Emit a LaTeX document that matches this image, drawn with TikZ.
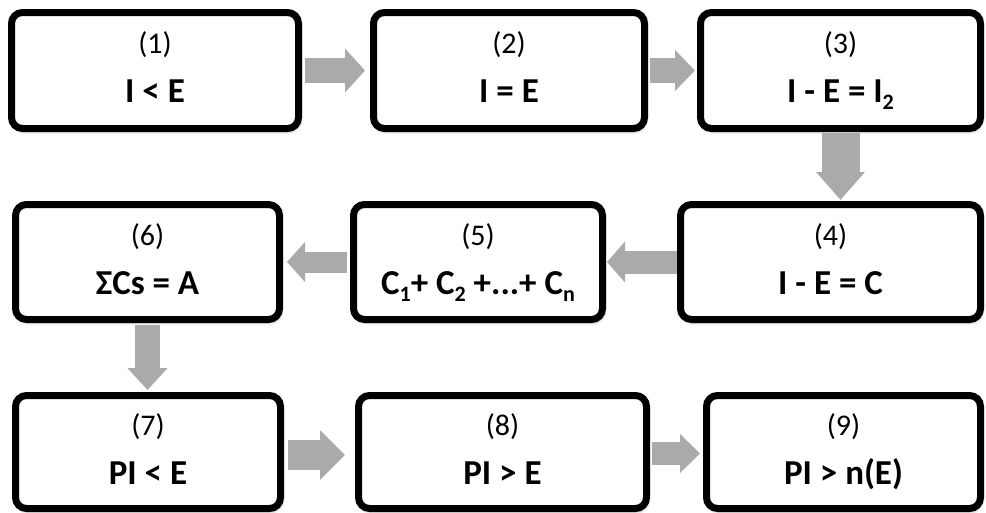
\documentclass[tikz,border=0pt]{standalone}
\usepackage{fontspec}
\setmainfont{Carlito}
\usetikzlibrary{arrows.meta,shadows.blur}
\definecolor{flowgray}{RGB}{170,170,170}
\tikzset{
  stagebox/.style 2 args={draw=black, line width=7pt, rounded corners=11pt,
    fill=white, minimum width=#1, minimum height=#2, inner sep=0pt,
    blur shadow={shadow xshift=1.5pt, shadow yshift=-3pt,
      shadow blur steps=6, shadow opacity=35, shadow blur radius=3pt}},
  stagenum/.style={font=\fontsize{30}{30}\selectfont, anchor=base, inner sep=0pt},
  stagemain/.style={font=\bfseries\fontsize{35}{35}\selectfont, anchor=base, inner sep=0pt},
  flow/.style n args={3}{draw=flowgray, line width=#1,
    -{Triangle[width=#2,length=#3]}},
}
\newcommand{\lowsub}[1]{\raisebox{-7pt}{\fontsize{22}{22}\selectfont #1}}
% \stagebox{name}{cx}{cy}{width}{height}{number}{formula}
\newcommand{\stagebox}[7]{%
  \node[stagebox={#4pt}{#5pt}] (#1) at (#2,#3) {};
  \node[stagenum] (#1n) at ([yshift=17pt]#1.center) {#6};
  \node[stagemain] (#1m) at ([yshift=-32pt]#1.center) {#7};
}
\begin{document}
\begin{tikzpicture}[x=1pt,y=-1pt]
\useasboundingbox (0,0) rectangle (986,512);

% row 1
\stagebox{b1}{155}{70.5}{287}{116}{(1)}{I < E}
\stagebox{b2}{509}{70.5}{271}{116}{(2)}{I = E}
\stagebox{b3}{840.5}{70.5}{280}{116}{(3)}{I - E = I\lowsub{2}}
% row 2
\stagebox{b6}{147.5}{262}{264}{115}{(6)}{ΣCs = A}
\stagebox{b5}{478}{262}{249}{115}{(5)}{C\lowsub{1}+ C\lowsub{2} +...+ C\lowsub{n}}
\stagebox{b4}{830.5}{262}{300}{115}{(4)}{I - E = C}
% row 3
\stagebox{b7}{148}{452}{265}{113}{(7)}{PI < E}
\stagebox{b8}{502.5}{452}{288}{113}{(8)}{PI > E}
\stagebox{b9}{843.5}{452}{274}{113}{(9)}{PI > n(E)}

% connectors
\draw[flow={25pt}{43pt}{20pt}, shorten <=3pt, shorten >=5pt] (b1.east) -- (b2.west);
\draw[flow={25pt}{40pt}{20pt}, shorten <=2pt, shorten >=2pt] (b2.east) -- (b3.west);
\draw[flow={38pt}{47pt}{28pt}, shorten <=1pt, shorten >=1pt] (b3.south) -- (b3.south |- b4.north);
\draw[flow={23pt}{40pt}{18pt}, shorten >=1pt] (b4.west) -- (b5.east);
\draw[flow={21pt}{39pt}{18pt}, shorten <=3pt, shorten >=4pt] (b5.west) -- (b6.east);
\draw[flow={25pt}{39pt}{22pt}, shorten <=2pt, shorten >=2pt] (b6.south) -- (b6.south |- b7.north);
\draw[flow={30pt}{48pt}{25pt}, shorten <=4pt, shorten >=10pt] ([yshift=-3pt]b7.east) -- ([yshift=-3pt]b8.west);
\draw[flow={23pt}{38pt}{20pt}, shorten <=2pt, shorten >=3pt] ([yshift=-1.5pt]b8.east) -- ([yshift=-1.5pt]b9.west);
\end{tikzpicture}
\end{document}
